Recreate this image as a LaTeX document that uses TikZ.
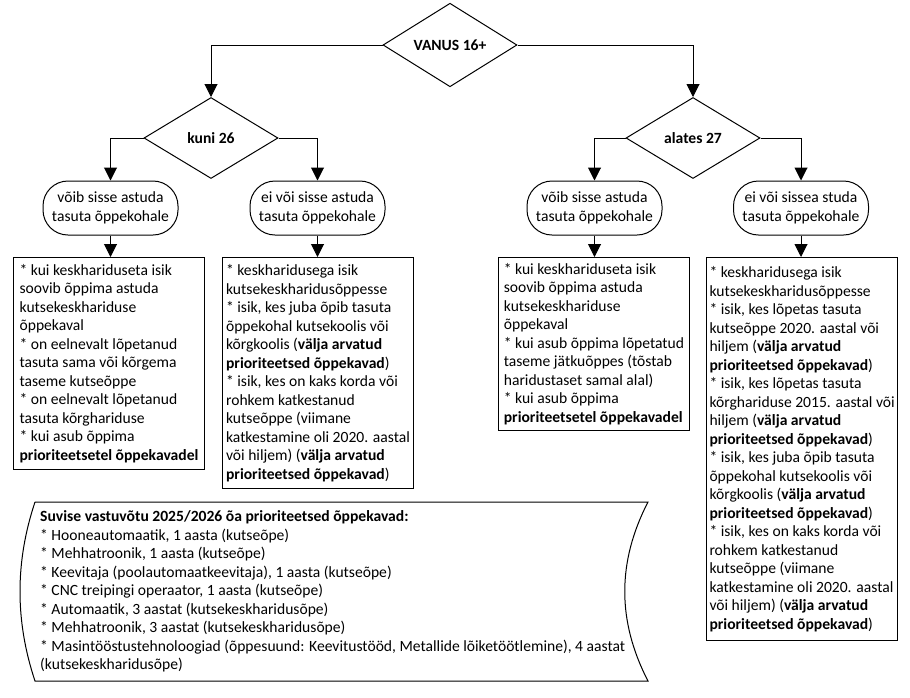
\documentclass[tikz,border=0pt]{standalone}
\usepackage{fontspec}
\setmainfont{Carlito}
\usetikzlibrary{shapes.geometric,arrows.meta}
\begin{document}
\begin{tikzpicture}[x=1pt,y=-1pt,
  every node/.style={font=\fontsize{15.6}{18.5}\selectfont},
  dec/.style={diamond,draw,line width=1pt,inner sep=0pt,minimum width=134pt,minimum height=81pt,font=\fontsize{15.6}{18.5}\selectfont\bfseries},
  term/.style={draw,line width=1pt,rounded corners=25pt,minimum width=135pt,minimum height=54pt,align=center,inner sep=0pt},
  infobox/.style={draw,line width=1pt,align=left,inner sep=3pt,minimum width=191pt,anchor=north west},
  arr/.style={line width=1pt,-{Triangle[width=13pt,length=13pt]}},
  lnk/.style={line width=1pt},
]
\useasboundingbox (0,0) rectangle (910,697);

\node[dec] (vanus) at (450,45) {VANUS 16+};
\node[dec] (kuni) at (211,138) {kuni 26};
\node[dec] (alates) at (693,138) {alates 27};

\node[term] (t1) at (110.5,208) {võib sisse astuda\\tasuta õppekohale};
\node[term] (t2) at (317.5,208) {ei või sisse astuda\\tasuta õppekohale};
\node[term] (t3) at (594.5,208) {võib sisse astuda\\tasuta õppekohale};
\node[term] (t4) at (801,208) {ei või sissea studa\\tasuta õppekohale};

\node[infobox,minimum height=212pt] (b1) at (13,257) {* kui keskhariduseta isik\\
soovib õppima astuda\\
kutsekeskhariduse\\
õppekaval\\
* on eelnevalt lõpetanud\\
tasuta sama või kõrgema\\
taseme kutseõppe\\
* on eelnevalt lõpetanud\\
tasuta kõrghariduse\\
* kui asub õppima\\
\textbf{prioriteetsetel õppekavadel}};

\node[infobox,minimum height=231pt] (b2) at (222,257) {* keskharidusega isik\\
kutsekeskharidusõppesse\\
* isik, kes juba õpib tasuta\\
õppekohal kutsekoolis või\\
kõrgkoolis (\textbf{välja arvatud}\\
\textbf{prioriteetsed õppekavad})\\
* isik, kes on kaks korda või\\
rohkem katkestanud\\
kutseõppe (viimane\\
katkestamine oli 2020. aastal\\
või hiljem) (\textbf{välja arvatud}\\
\textbf{prioriteetsed õppekavad})};

\node[infobox,minimum height=173pt] (b3) at (498,257) {* kui keskhariduseta isik\\
soovib õppima astuda\\
kutsekeskhariduse\\
õppekaval\\
* kui asub õppima lõpetatud\\
taseme jätkuõppes (tõstab\\
haridustaset samal alal)\\
* kui asub õppima\\
\textbf{prioriteetsetel õppekavadel}};

\node[infobox,minimum height=383pt] (b4) at (706,257) {* keskharidusega isik\\
kutsekeskharidusõppesse\\
* isik, kes lõpetas tasuta\\
kutseõppe 2020. aastal või\\
hiljem (\textbf{välja arvatud}\\
\textbf{prioriteetsed õppekavad})\\
* isik, kes lõpetas tasuta\\
kõrghariduse 2015. aastal või\\
hiljem (\textbf{välja arvatud}\\
\textbf{prioriteetsed õppekavad})\\
* isik, kes juba õpib tasuta\\
õppekohal kutsekoolis või\\
kõrgkoolis (\textbf{välja arvatud}\\
\textbf{prioriteetsed õppekavad})\\
* isik, kes on kaks korda või\\
rohkem katkestanud\\
kutseõppe (viimane\\
katkestamine oli 2020. aastal\\
või hiljem) (\textbf{välja arvatud}\\
\textbf{prioriteetsed õppekavad})};

% stored data shape
\draw[lnk] (35,502) -- (648,502) .. controls (617,562) and (617,621) .. (648,681)
  -- (35,681) .. controls (15,621) and (15,562) .. (35,502);
\node[align=left,anchor=west,inner sep=0pt] (prio) at (40,591.5) {\fontsize{15.6}{18.1}\selectfont\textbf{Suvise vastuvõtu 2025/2026 õa prioriteetsed õppekavad:}\\
* Hooneautomaatik, 1 aasta (kutseõpe)\\
* Mehhatroonik, 1 aasta (kutseõpe)\\
* Keevitaja (poolautomaatkeevitaja), 1 aasta (kutseõpe)\\
* CNC treipingi operaator, 1 aasta (kutseõpe)\\
* Automaatik, 3 aastat (kutsekeskharidusõpe)\\
* Mehhatroonik, 3 aastat (kutsekeskharidusõpe)\\
* Masintööstustehnoloogiad (õppesuund: Keevitustööd, Metallide lõiketöötlemine), 4 aastat\\
(kutsekeskharidusõpe)};

% connectors
\draw[arr] (vanus.west) -| (kuni.north);
\draw[arr] (vanus.east) -| (alates.north);
\draw[arr] (kuni.west) -| (t1.north);
\draw[arr] (kuni.east) -| (t2.north);
\draw[arr] (alates.west) -| (t3.north);
\draw[arr] (alates.east) -| (t4.north);
\draw[arr] (t1.south) -- (t1.south |- b1.north);
\draw[arr] (t2.south) -- (t2.south |- b2.north);
\draw[arr] (t3.south) -- (t3.south |- b3.north);
\draw[arr] (t4.south) -- (t4.south |- b4.north);
\end{tikzpicture}
\end{document}
